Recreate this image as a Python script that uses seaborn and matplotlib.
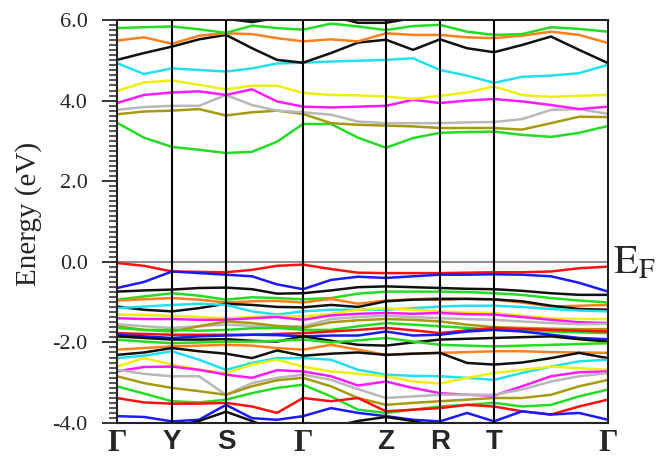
import matplotlib
matplotlib.use('Agg')
import matplotlib.pyplot as plt
import pandas as pd
import seaborn as sns
from matplotlib.ticker import MultipleLocator, FixedLocator

# k-path (path length units) and high-symmetry points
k_grid = [0, 27, 55, 82, 109, 135, 160, 186, 214, 241, 269, 296, 323, 350, 377, 405, 434, 462, 491]
k_ticks = [0, 55, 109, 186, 269, 323, 377, 491]
k_labels = ['Γ', 'Y', 'S', 'Γ', 'Z', 'R', 'T', 'Γ']

# conduction bands (eV), bottom to top
cb1 = [3.45, 3.08, 2.85, 2.78, 2.70, 2.73, 2.98, 3.42, 3.42, 3.08, 2.83, 3.07, 3.20, 3.22, 3.23, 3.15, 3.10, 3.20, 3.37]
cb2 = [3.66, 3.73, 3.75, 3.79, 3.63, 3.71, 3.75, 3.67, 3.44, 3.40, 3.38, 3.36, 3.32, 3.32, 3.32, 3.28, 3.44, 3.60, 3.59]
cb3 = [3.77, 3.84, 3.87, 3.87, 4.14, 3.89, 3.75, 3.71, 3.65, 3.48, 3.44, 3.44, 3.44, 3.46, 3.47, 3.54, 3.77, 3.79, 3.67]
cb4 = [3.94, 4.14, 4.20, 4.23, 4.14, 4.28, 3.98, 3.85, 3.83, 3.85, 3.87, 4.02, 3.94, 4.00, 4.04, 3.98, 3.89, 3.79, 3.85]
cb5 = [4.24, 4.45, 4.50, 4.39, 4.28, 4.37, 4.37, 4.19, 4.14, 4.13, 4.10, 4.04, 4.12, 4.20, 4.35, 4.14, 4.09, 4.12, 4.14]
cb6 = [4.93, 4.66, 4.80, 4.76, 4.72, 4.80, 4.92, 4.94, 4.97, 4.99, 5.01, 5.05, 4.76, 4.62, 4.44, 4.59, 4.62, 4.68, 4.89]
cb7 = [5.01, 5.18, 5.34, 5.52, 5.63, 5.30, 5.01, 4.94, 5.18, 5.44, 5.51, 5.26, 5.52, 5.30, 5.20, 5.38, 5.59, 5.26, 4.93]
cb8 = [5.49, 5.57, 5.41, 5.61, 5.67, 5.65, 5.55, 5.47, 5.52, 5.47, 5.67, 5.63, 5.63, 5.57, 5.55, 5.61, 5.71, 5.63, 5.43]
cb9 = [5.80, 5.82, 5.84, 5.77, 5.68, 5.86, 5.80, 5.76, 5.91, 5.84, 5.75, 5.85, 5.88, 5.71, 5.63, 5.65, 5.82, 5.78, 5.71]
cb10 = [6.15, 6.15, 6.15, 6.10, 6.03, 5.95, 6.05, 6.15, 6.10, 5.93, 5.93, 6.05, 6.15, 6.15, 6.15, 6.15, 6.15, 6.15, 6.15]

# valence bands (eV), top to bottom
vb1 = [-0.03, -0.10, -0.24, -0.25, -0.26, -0.20, -0.10, -0.07, -0.18, -0.27, -0.28, -0.28, -0.28, -0.27, -0.26, -0.26, -0.24, -0.16, -0.12]
vb2 = [-0.65, -0.50, -0.24, -0.28, -0.32, -0.36, -0.56, -0.68, -0.45, -0.37, -0.40, -0.36, -0.32, -0.32, -0.31, -0.32, -0.36, -0.52, -0.74]
vb3 = [-0.74, -0.71, -0.69, -0.65, -0.64, -0.68, -0.79, -0.78, -0.71, -0.63, -0.61, -0.63, -0.65, -0.67, -0.68, -0.72, -0.78, -0.82, -0.82]
vb4 = [-0.94, -0.86, -0.78, -0.84, -0.94, -0.88, -0.90, -0.93, -0.90, -0.79, -0.74, -0.74, -0.74, -0.75, -0.78, -0.82, -0.90, -0.96, -1.01]
vb5 = [-0.96, -0.93, -0.90, -0.94, -1.01, -0.98, -0.97, -1.01, -0.92, -1.04, -0.96, -0.93, -0.90, -0.92, -0.94, -1.01, -1.11, -1.09, -1.07]
vb6 = [-1.11, -1.19, -1.23, -1.15, -1.04, -1.07, -1.12, -1.13, -1.07, -1.12, -0.98, -0.94, -0.93, -0.92, -0.93, -0.98, -1.09, -1.17, -1.19]
vb7 = [-1.15, -1.11, -1.07, -1.04, -1.07, -1.23, -1.31, -1.23, -1.19, -1.19, -1.19, -1.15, -1.11, -1.09, -1.09, -1.12, -1.17, -1.21, -1.23]
vb8 = [-1.31, -1.32, -1.34, -1.37, -1.40, -1.37, -1.34, -1.36, -1.29, -1.19, -1.15, -1.19, -1.23, -1.26, -1.27, -1.34, -1.40, -1.42, -1.42]
vb9 = [-1.40, -1.42, -1.42, -1.44, -1.44, -1.40, -1.37, -1.44, -1.33, -1.29, -1.27, -1.29, -1.27, -1.30, -1.31, -1.37, -1.44, -1.50, -1.52]
vb10 = [-1.55, -1.60, -1.64, -1.60, -1.56, -1.59, -1.60, -1.60, -1.42, -1.37, -1.34, -1.37, -1.40, -1.42, -1.44, -1.48, -1.52, -1.55, -1.54]
vb11 = [-1.60, -1.69, -1.73, -1.60, -1.48, -1.52, -1.59, -1.64, -1.50, -1.45, -1.42, -1.44, -1.48, -1.56, -1.62, -1.64, -1.66, -1.67, -1.67]
vb12 = [-1.64, -1.69, -1.69, -1.71, -1.69, -1.65, -1.64, -1.69, -1.69, -1.60, -1.52, -1.56, -1.60, -1.64, -1.69, -1.71, -1.73, -1.75, -1.77]
vb13 = [-1.77, -1.79, -1.81, -1.81, -1.81, -1.81, -1.79, -1.77, -1.73, -1.69, -1.64, -1.70, -1.77, -1.70, -1.64, -1.67, -1.69, -1.71, -1.73]
vb14 = [-1.81, -1.85, -1.89, -1.85, -1.83, -1.81, -1.82, -1.85, -1.83, -1.83, -1.73, -1.83, -1.81, -1.73, -1.69, -1.73, -1.81, -1.89, -1.92]
vb15 = [-1.85, -1.89, -1.93, -1.93, -1.92, -1.96, -1.98, -1.85, -1.96, -2.06, -2.08, -2.00, -1.93, -1.91, -1.89, -1.87, -1.85, -1.92, -1.98]
vb16 = [-1.93, -1.98, -2.02, -2.00, -1.98, -1.98, -1.96, -1.93, -2.00, -1.95, -1.89, -1.98, -2.06, -2.08, -2.10, -2.08, -2.06, -2.04, -2.02]
vb17 = [-2.18, -2.14, -2.10, -2.08, -2.06, -2.08, -2.14, -2.18, -2.06, -2.18, -2.31, -2.28, -2.26, -2.24, -2.22, -2.22, -2.24, -2.25, -2.26]
vb18 = [-2.31, -2.25, -2.14, -2.22, -2.28, -2.39, -2.20, -2.33, -2.28, -2.25, -2.31, -2.28, -2.26, -2.51, -2.55, -2.50, -2.39, -2.26, -2.39]
vb19 = [-2.39, -2.33, -2.22, -2.43, -2.68, -2.51, -2.39, -2.39, -2.43, -2.68, -2.80, -2.83, -2.84, -2.88, -2.93, -2.76, -2.60, -2.47, -2.43]
vb20 = [-2.60, -2.39, -2.55, -2.68, -2.76, -2.55, -2.43, -2.60, -2.72, -2.78, -2.84, -2.97, -3.02, -2.88, -2.76, -2.68, -2.60, -2.64, -2.68]
vb21 = [-2.72, -2.61, -2.60, -2.68, -2.80, -2.88, -2.69, -2.72, -2.84, -3.07, -2.97, -3.13, -3.26, -3.30, -3.32, -3.09, -2.84, -2.74, -2.72]
vb22 = [-2.68, -2.78, -2.84, -2.84, -3.30, -3.01, -2.88, -2.80, -2.93, -3.16, -3.38, -3.34, -3.30, -3.30, -3.30, -3.17, -2.97, -2.84, -2.76]
vb23 = [-2.84, -3.01, -3.13, -3.21, -3.30, -3.09, -2.94, -2.88, -3.09, -3.38, -3.55, -3.50, -3.46, -3.42, -3.38, -3.38, -3.30, -3.09, -2.93]
vb24 = [-3.09, -3.27, -3.46, -3.49, -3.42, -3.26, -3.13, -3.05, -3.34, -3.67, -3.75, -3.67, -3.59, -3.55, -3.50, -3.59, -3.55, -3.34, -3.17]
vb25 = [-3.38, -3.49, -3.52, -3.52, -3.50, -3.59, -3.75, -3.38, -3.46, -3.38, -3.71, -3.67, -3.63, -3.55, -3.59, -3.71, -3.79, -3.59, -3.42]
vb26 = [-3.83, -3.85, -3.96, -3.92, -3.55, -3.88, -3.92, -3.83, -3.63, -3.75, -3.83, -3.92, -3.96, -3.75, -3.96, -3.71, -3.79, -3.75, -3.92]
vb27 = [-4.20, -4.20, -4.10, -3.95, -3.72, -3.95, -4.20, -4.20, -4.10, -3.95, -3.85, -3.95, -4.10, -4.20, -4.20, -4.20, -4.20, -4.20, -4.20]

RED, BLUE, BLK, GRN, ORG = '#ff1010', '#1a1aff', '#111111', '#22dd22', '#ff801a'
CYN, YEL, MAG, GRY, OLV = '#22e0f0', '#eeee10', '#ff1aff', '#b8b8b8', '#a89a10'

bands = {
    'cb1': (cb1, GRN), 'cb2': (cb2, OLV), 'cb3': (cb3, GRY), 'cb4': (cb4, MAG),
    'cb5': (cb5, YEL), 'cb6': (cb6, CYN), 'cb7': (cb7, BLK), 'cb8': (cb8, ORG),
    'cb9': (cb9, GRN), 'cb10': (cb10, BLK),
    'vb1': (vb1, RED), 'vb2': (vb2, BLUE), 'vb3': (vb3, BLK), 'vb4': (vb4, GRN),
    'vb5': (vb5, ORG), 'vb6': (vb6, BLK), 'vb7': (vb7, CYN), 'vb8': (vb8, YEL),
    'vb9': (vb9, MAG), 'vb10': (vb10, GRY), 'vb11': (vb11, OLV), 'vb12': (vb12, GRN),
    'vb13': (vb13, RED), 'vb14': (vb14, BLUE), 'vb15': (vb15, BLK), 'vb16': (vb16, GRN),
    'vb17': (vb17, ORG), 'vb18': (vb18, BLK), 'vb19': (vb19, CYN), 'vb20': (vb20, YEL),
    'vb21': (vb21, MAG), 'vb22': (vb22, GRY), 'vb23': (vb23, OLV), 'vb24': (vb24, GRN),
    'vb25': (vb25, RED), 'vb26': (vb26, BLUE), 'vb27': (vb27, BLK),
}

rows = []
for name, (vals, _) in bands.items():
    for k, e in zip(k_grid, vals):
        rows.append({'band': name, 'k': k, 'E': e})
df = pd.DataFrame(rows)
palette = {name: c for name, (_, c) in bands.items()}

sns.set_style('white')
plt.rcParams['font.family'] = ['Liberation Serif', 'DejaVu Serif']
plt.rcParams['mathtext.fontset'] = 'stix'

fig = plt.figure(figsize=(6.58, 4.59), dpi=100)
ax = fig.add_axes([117 / 658, 1 - 423 / 459, 491 / 658, 403 / 459])

sns.lineplot(data=df, x='k', y='E', hue='band', palette=palette, estimator=None,
             sort=False, legend=False, linewidth=1.8, ax=ax)

ax.axhline(0, color='#909090', lw=1.5, zorder=1)
for kt in k_ticks[1:-1]:
    ax.axvline(kt, color='black', lw=1.5, zorder=3)

ax.set_xlim(0, 491)
ax.set_ylim(-4, 6)
ax.set_xlabel('')
ax.set_ylabel('Energy (eV)', fontsize=21)
ax.yaxis.set_label_coords(-0.153, 0.52)

ax.yaxis.set_major_locator(FixedLocator([-4, -2, 0, 2, 4, 6]))
ax.yaxis.set_minor_locator(MultipleLocator(0.125))
ax.set_yticklabels([f'{v:.1f}' for v in [-4, -2, 0, 2, 4, 6]], fontsize=16)
ax.tick_params(axis='y', which='major', direction='out', length=11, width=1.3, pad=10, left=True)
ax.tick_params(axis='y', which='minor', direction='out', length=6, width=1.1, left=True)

ax.set_xticks(k_ticks)
ax.set_xticklabels(k_labels)
ax.tick_params(axis='x', length=0, pad=4)
for lab in ax.get_xticklabels():
    if lab.get_text() == 'Γ':
        lab.set_fontfamily('Liberation Serif')
        lab.set_fontsize(22)
    else:
        lab.set_fontfamily('Liberation Sans')
        lab.set_fontsize(20)
    lab.set_fontweight('bold')

for sp in ax.spines.values():
    sp.set_linewidth(1.5)
    sp.set_color('#222222')

fig.text(613 / 658, 1 - 273 / 459, r'$\mathrm{E_F}$', fontsize=29, va='baseline', ha='left')

fig.savefig('out.png', dpi=100)
